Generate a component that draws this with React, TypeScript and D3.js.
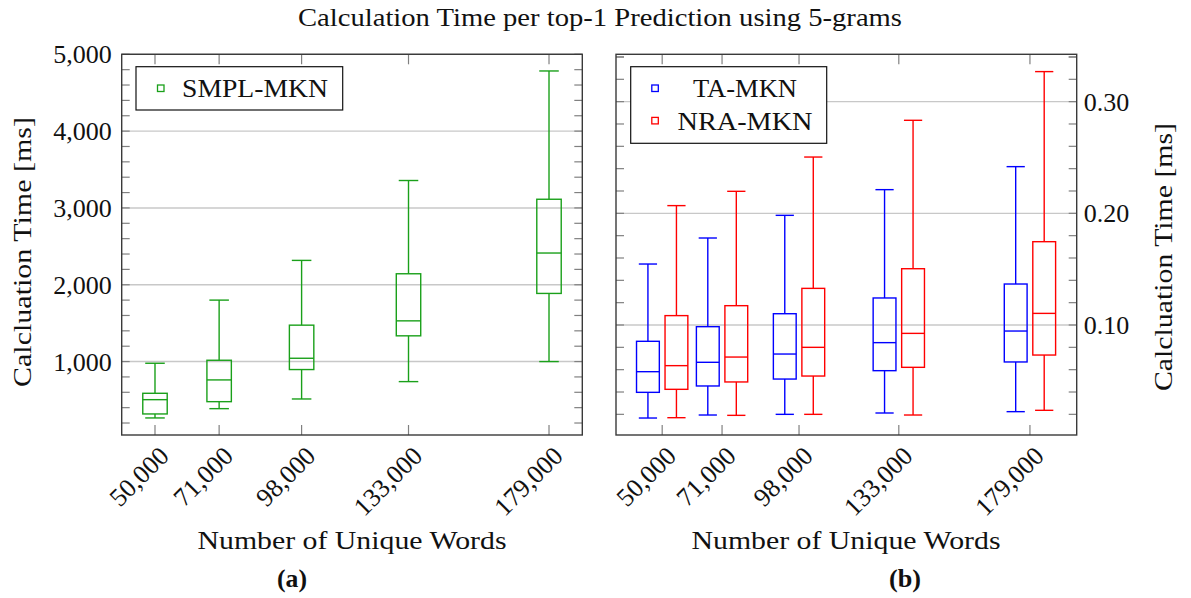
import React from "react";
import * as d3 from "d3";

// ---------- data ----------
const categories = [50000, 71000, 98000, 133000, 179000];
const categoryLabels = ["50,000", "71,000", "98,000", "133,000", "179,000"];

// SMPL-MKN (ms)
const smplLower = [266, 387, 513, 739, 1000];
const smplQ1 = [318, 478, 896, 1335, 1887];
const smplMedian = [504, 761, 1043, 1530, 2413];
const smplQ3 = [587, 1017, 1474, 2143, 3113];
const smplUpper = [978, 1800, 2317, 3357, 4783];

// TA-MKN (ms)
const taLower = [0.0167, 0.0194, 0.02, 0.0212, 0.0224];
const taQ1 = [0.0397, 0.0454, 0.0516, 0.0591, 0.0669];
const taMedian = [0.0582, 0.0666, 0.074, 0.0842, 0.0946];
const taQ3 = [0.0854, 0.0985, 0.1101, 0.1242, 0.1367];
const taUpper = [0.1546, 0.1779, 0.1982, 0.2212, 0.2418];

// NRA-MKN (ms)
const nraLower = [0.017, 0.0191, 0.02, 0.0194, 0.0236];
const nraQ1 = [0.0424, 0.049, 0.0543, 0.0621, 0.0731];
const nraMedian = [0.0636, 0.0713, 0.08, 0.0925, 0.1104];
const nraQ3 = [0.1084, 0.1173, 0.1328, 0.1504, 0.1746];
const nraUpper = [0.2069, 0.2197, 0.2504, 0.2833, 0.3269];

const leftMajorTicks = [1000, 2000, 3000, 4000, 5000];
const rightMajorTicks = [0.1, 0.2, 0.3];

const FONT = "'Liberation Serif', 'Times New Roman', serif";
const GREEN = "#1aa01a";
const BLUE = "#0000ff";
const RED = "#ff0000";
const FRAME = "#3a3a3a";
const TICK = "#808080";
const GRID = "#c8c8c8";

type Box = { x: number; lo: number; q1: number; med: number; q3: number; hi: number };

function makeBoxes(lo: number[], q1: number[], med: number[], q3: number[], hi: number[]): Box[] {
  return categories.map((c, i) => ({ x: c, lo: lo[i], q1: q1[i], med: med[i], q3: q3[i], hi: hi[i] }));
}

function BoxMark({
  b, x, y, offset, width, color,
}: { b: Box; x: d3.ScaleLinear<number, number>; y: d3.ScaleLinear<number, number>; offset: number; width: number; color: string }) {
  const cx = x(b.x + offset);
  const x0 = x(b.x + offset - width / 2);
  const x1 = x(b.x + offset + width / 2);
  const cw = (x1 - x0) * 0.8;
  const sw = 1.4;
  return (
    <g stroke={color} strokeWidth={sw} fill="none">
      <line x1={cx} x2={cx} y1={y(b.q3)} y2={y(b.hi)} />
      <line x1={cx} x2={cx} y1={y(b.q1)} y2={y(b.lo)} />
      <line x1={cx - cw / 2} x2={cx + cw / 2} y1={y(b.hi)} y2={y(b.hi)} />
      <line x1={cx - cw / 2} x2={cx + cw / 2} y1={y(b.lo)} y2={y(b.lo)} />
      <rect x={x0} y={y(b.q3)} width={x1 - x0} height={y(b.q1) - y(b.q3)} />
      <line x1={x0} x2={x1} y1={y(b.med)} y2={y(b.med)} />
    </g>
  );
}

function Frame({
  x, y, majors, minors, showLeftLabels, fmt,
}: {
  x: d3.ScaleLinear<number, number>; y: d3.ScaleLinear<number, number>; majors: number[]; minors: number[];
  showLeftLabels: boolean; fmt: (v: number) => string;
}) {
  const [xl, xr] = x.range();
  const [yb, yt] = y.range();
  const tl = 8;
  return (
    <g>
      {majors.map((v) => (
        <line key={"g" + v} x1={xl} x2={xr} y1={y(v)} y2={y(v)} stroke={GRID} strokeWidth={1.4} />
      ))}
      {minors.concat(majors).map((v) => (
        <g key={"t" + v} stroke={TICK} strokeWidth={1.2}>
          <line x1={xl} x2={xl + tl} y1={y(v)} y2={y(v)} />
          <line x1={xr} x2={xr - tl} y1={y(v)} y2={y(v)} />
        </g>
      ))}
      {categories.map((c) => (
        <g key={"xt" + c} stroke={TICK} strokeWidth={1.2}>
          <line x1={x(c)} x2={x(c)} y1={yb} y2={yb - 10} />
          <line x1={x(c)} x2={x(c)} y1={yt} y2={yt + 10} />
        </g>
      ))}
      <rect x={xl} y={yt} width={xr - xl} height={yb - yt} fill="none" stroke={FRAME} strokeWidth={1.4} />
      {majors.map((v) => (
        <text
          key={"l" + v}
          x={showLeftLabels ? xl - 10 : xr + 7}
          y={y(v)}
          dy="0.35em"
          textAnchor={showLeftLabels ? "end" : "start"}
          fontFamily={FONT}
          fontSize={26}
          fill="#111"
        >
          {fmt(v)}
        </text>
      ))}
      {categories.map((c, i) => (
        <text
          key={"xl" + c}
          transform={`translate(${x(c) + 9},${451}) rotate(-45)`}
          textAnchor="end"
          dy="0.35em"
          fontFamily={FONT}
          fontSize={26}
          fill="#111"
        >
          {categoryLabels[i]}
        </text>
      ))}
    </g>
  );
}

export default function App() {
  const W = 1191;
  const H = 598;

  const xL = d3.scaleLinear().domain([39100, 189900]).range([121.7, 582.3]);
  const yL = d3.scaleLinear().domain([44, 5000]).range([435, 54.3]);
  const xR = d3.scaleLinear().domain([33800, 195400]).range([616, 1076.7]);
  const yR = d3.scaleLinear().domain([0.0015, 0.3424]).range([435, 54.3]);

  const leftMinors = d3.range(200, 5000, 200).filter((v) => v % 1000 !== 0);
  const rightMinors = d3.range(1, 18).map((k) => +(k * 0.02).toFixed(2)).filter((v) => Math.abs(v * 10 - Math.round(v * 10)) > 1e-6);

  const smpl = makeBoxes(smplLower, smplQ1, smplMedian, smplQ3, smplUpper);
  const ta = makeBoxes(taLower, taQ1, taMedian, taQ3, taUpper);
  const nra = makeBoxes(nraLower, nraQ1, nraMedian, nraQ3, nraUpper);

  const fmtL = d3.format(",");
  const fmtR = d3.format(".2f");

  const stretch = (len: number) => ({ textLength: len, lengthAdjust: "spacingAndGlyphs" as const });

  return (
    <svg width={W} height={H} style={{ position: "absolute", left: 0, top: 0, background: "#fff" }}>
      <rect width={W} height={H} fill="#fff" />
      <text x={600} y={26} textAnchor="middle" fontFamily={FONT} fontSize={26} fill="#111" {...stretch(604)}>
        Calculation Time per top-1 Prediction using 5-grams
      </text>

      {/* left panel */}
      <Frame x={xL} y={yL} majors={leftMajorTicks} minors={leftMinors} showLeftLabels={true} fmt={fmtL} />
      {smpl.map((b) => (
        <BoxMark key={b.x} b={b} x={xL} y={yL} offset={0} width={8000} color={GREEN} />
      ))}
      <g>
        <rect x={136} y={66.7} width={206.7} height={43.3} fill="#fff" stroke="#111" strokeWidth={1.2} />
        <rect x={157.5} y={85} width={6.5} height={6.5} fill="none" stroke={GREEN} strokeWidth={1.3} />
        <text x={255} y={88.3} dy="0.35em" textAnchor="middle" fontFamily={FONT} fontSize={26} fill="#111" {...stretch(146)}>
          SMPL-MKN
        </text>
      </g>
      <text
        transform={`translate(31,252) rotate(-90)`}
        textAnchor="middle"
        fontFamily={FONT}
        fontSize={26}
        fill="#111"
        {...stretch(270)}
      >
        Calcluation Time [ms]
      </text>
      <text x={352} y={549} textAnchor="middle" fontFamily={FONT} fontSize={26} fill="#111" {...stretch(309)}>
        Number of Unique Words
      </text>
      <text x={292} y={587} textAnchor="middle" fontFamily={FONT} fontSize={26} fontWeight="bold" fill="#111" {...stretch(30)}>
        (a)
      </text>

      {/* right panel */}
      <Frame x={xR} y={yR} majors={rightMajorTicks} minors={rightMinors.concat([0.34])} showLeftLabels={false} fmt={fmtR} />
      {ta.map((b) => (
        <BoxMark key={"ta" + b.x} b={b} x={xR} y={yR} offset={-5000} width={8000} color={BLUE} />
      ))}
      {nra.map((b) => (
        <BoxMark key={"nra" + b.x} b={b} x={xR} y={yR} offset={5000} width={8000} color={RED} />
      ))}
      <g>
        <rect x={630.7} y={66.7} width={196} height={76.6} fill="#fff" stroke="#111" strokeWidth={1.2} />
        <rect x={651.8} y={85} width={6.5} height={6.5} fill="none" stroke={BLUE} strokeWidth={1.3} />
        <rect x={651.8} y={117.4} width={6.5} height={6.5} fill="none" stroke={RED} strokeWidth={1.3} />
        <text x={745} y={88.3} dy="0.35em" textAnchor="middle" fontFamily={FONT} fontSize={26} fill="#111" {...stretch(104)}>
          TA-MKN
        </text>
        <text x={745} y={120.7} dy="0.35em" textAnchor="middle" fontFamily={FONT} fontSize={26} fill="#111" {...stretch(135)}>
          NRA-MKN
        </text>
      </g>
      <text
        transform={`translate(1172,257) rotate(-90)`}
        textAnchor="middle"
        fontFamily={FONT}
        fontSize={26}
        fill="#111"
        {...stretch(268)}
      >
        Calcluation Time [ms]
      </text>
      <text x={846} y={549} textAnchor="middle" fontFamily={FONT} fontSize={26} fill="#111" {...stretch(309)}>
        Number of Unique Words
      </text>
      <text x={905} y={587} textAnchor="middle" fontFamily={FONT} fontSize={26} fontWeight="bold" fill="#111" {...stretch(32)}>
        (b)
      </text>
    </svg>
  );
}
